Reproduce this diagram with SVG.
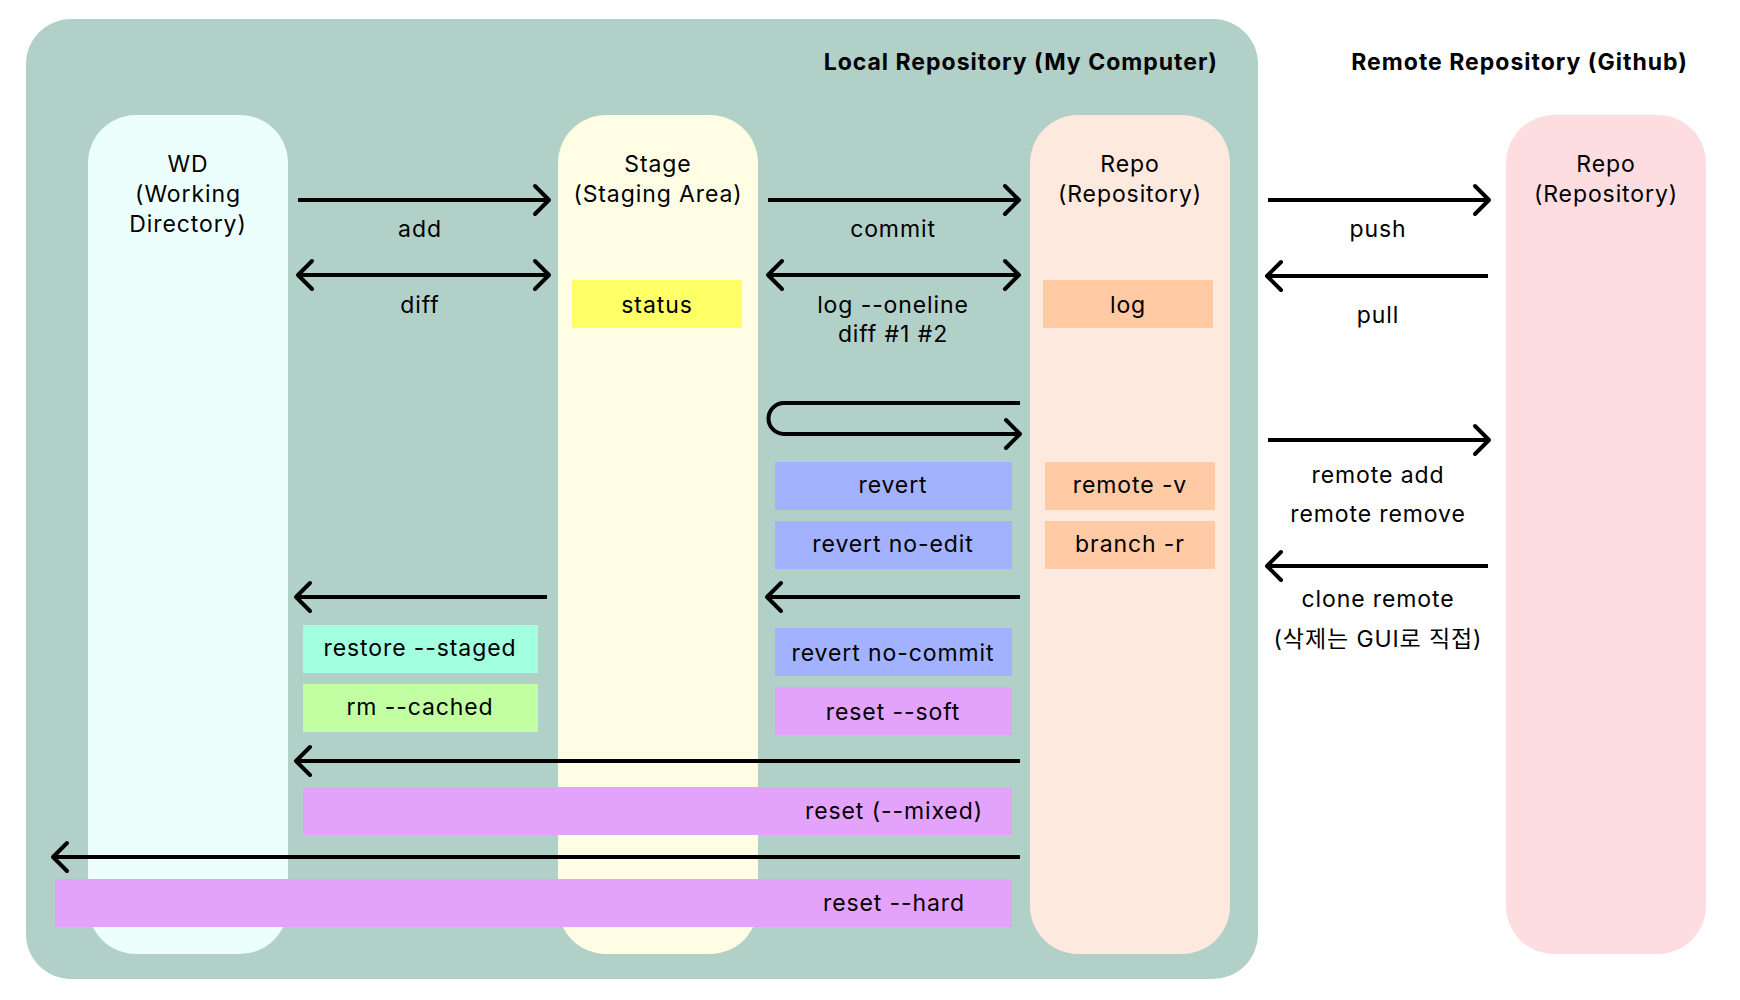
<svg xmlns="http://www.w3.org/2000/svg" width="1740" height="1000" viewBox="0 0 1740 1000">
<defs>
<style>
text{font-family:Inter,"Noto Sans","Noto Sans CJK KR",sans-serif;font-size:23px;letter-spacing:0.9px;fill:#000;text-anchor:middle}
.title{font-weight:bold;text-anchor:end;letter-spacing:1px}
.arrow{fill:none;stroke:#000;stroke-width:4}
</style>
<marker id="ah" markerUnits="userSpaceOnUse" viewBox="-20 -20 40 40" markerWidth="40" markerHeight="40" refX="0" refY="0" orient="auto-start-reverse">
<path d="M-14,-14 L0,0 L-14,14" fill="none" stroke="#000" stroke-width="4" stroke-linecap="round" stroke-linejoin="round"/>
</marker>
</defs>
<rect width="1740" height="1000" fill="#fff"/>
<g id="local-repository">
<rect x="26" y="19" width="1232" height="960" rx="45" fill="#b1d0c7"/>
<text class="title" x="1218" y="70">Local Repository (My Computer)</text>
</g>
<text class="title" x="1688" y="70" id="remote-title">Remote Repository (Github)</text>
<g id="wd">
<rect x="88" y="115" width="200" height="839" rx="48" fill="#ecfffd"/>
<text x="188" y="172">WD</text>
<text x="188" y="202">(Working</text>
<text x="188" y="232">Directory)</text>
</g>
<g id="stage">
<rect x="558" y="115" width="200" height="839" rx="48" fill="#fffee5"/>
<text x="658" y="172">Stage</text>
<text x="658" y="202">(Staging Area)</text>
</g>
<g id="repo-local">
<rect x="1030" y="115" width="200" height="839" rx="48" fill="#fde9dd"/>
<text x="1130" y="172">Repo</text>
<text x="1130" y="202">(Repository)</text>
</g>
<g id="repo-remote">
<rect x="1506" y="115" width="200" height="839" rx="48" fill="#fedde1"/>
<text x="1606" y="172">Repo</text>
<text x="1606" y="202">(Repository)</text>
</g>
<g id="cmd-status"><rect x="572" y="280" width="170" height="48" fill="#ffff66"/><text x="657" y="313">status</text></g>
<g id="cmd-log"><rect x="1043" y="280" width="170" height="48" fill="#ffcaa4"/><text x="1128" y="313">log</text></g>
<g id="cmd-revert"><rect x="775" y="462" width="237" height="48" fill="#a2b2ff"/><text x="893" y="493">revert</text></g>
<g id="cmd-revert-no-edit"><rect x="775" y="521" width="237" height="48" fill="#a2b2ff"/><text x="893" y="552">revert no-edit</text></g>
<g id="cmd-remote-v"><rect x="1045" y="462" width="170" height="48" fill="#ffcaa4"/><text x="1130" y="493">remote -v</text></g>
<g id="cmd-branch-r"><rect x="1045" y="521" width="170" height="48" fill="#ffcaa4"/><text x="1130" y="552">branch -r</text></g>
<g id="cmd-restore-staged"><rect x="303" y="625" width="235" height="48" fill="#a2ffe0"/><text x="420" y="656">restore --staged</text></g>
<g id="cmd-rm-cached"><rect x="303" y="684" width="235" height="48" fill="#c2ffa2"/><text x="420" y="715">rm --cached</text></g>
<g id="cmd-revert-no-commit"><rect x="775" y="628" width="237" height="48" fill="#a2b2ff"/><text x="893" y="661">revert no-commit</text></g>
<g id="cmd-reset-soft"><rect x="775" y="687" width="237" height="48" fill="#e3a3fd"/><text x="893" y="720">reset --soft</text></g>
<g id="cmd-reset-mixed"><rect x="303" y="787" width="709" height="48" fill="#e3a3fd"/><text x="894" y="819">reset (--mixed)</text></g>
<g id="cmd-reset-hard"><rect x="55" y="879" width="957" height="48" fill="#e3a3fd"/><text x="894" y="911">reset --hard</text></g>
<g id="connectors">
<path class="arrow" d="M298 200 H549" marker-end="url(#ah)"/>
<path class="arrow" d="M298 275 H549" marker-start="url(#ah)" marker-end="url(#ah)"/>
<path class="arrow" d="M768 200 H1019" marker-end="url(#ah)"/>
<path class="arrow" d="M768 275 H1019" marker-start="url(#ah)" marker-end="url(#ah)"/>
<path class="arrow" d="M1268 200 H1489" marker-end="url(#ah)"/>
<path class="arrow" d="M1488 276 H1267" marker-end="url(#ah)"/>
<path class="arrow" d="M1020 403 H784 A15.5 15.5 0 0 0 784 434 H1020" marker-end="url(#ah)"/>
<path class="arrow" d="M1268 440 H1489" marker-end="url(#ah)"/>
<path class="arrow" d="M1488 566 H1267" marker-end="url(#ah)"/>
<path class="arrow" d="M547 597 H296" marker-end="url(#ah)"/>
<path class="arrow" d="M1020 597 H767" marker-end="url(#ah)"/>
<path class="arrow" d="M1020 761 H296" marker-end="url(#ah)"/>
<path class="arrow" d="M1020 857 H53" marker-end="url(#ah)"/>
</g>
<g id="labels">
<text x="420" y="237">add</text>
<text x="420" y="313">diff</text>
<text x="893" y="237">commit</text>
<text x="893" y="313">log --oneline</text>
<text x="893" y="342">diff #1 #2</text>
<text x="1378" y="237">push</text>
<text x="1378" y="323">pull</text>
<text x="1378" y="483">remote add</text>
<text x="1378" y="522">remote remove</text>
<text x="1378" y="607">clone remote</text>
<text x="1378" y="647">(삭제는 GUI로 직접)</text>
</g>
</svg>
